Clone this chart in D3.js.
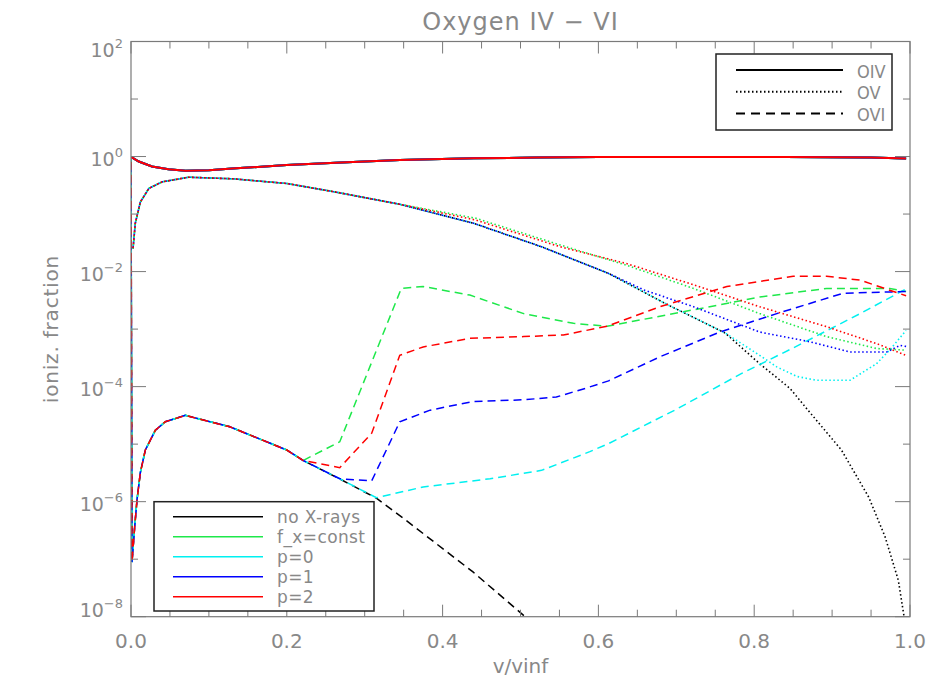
<!DOCTYPE html>
<html>
<head>
<meta charset="utf-8">
<script src="https://cdn.jsdelivr.net/npm/d3@7"></script>
<style>
  body { margin: 0; background: #fff; }
  text { font-family: "DejaVu Sans", sans-serif; fill: #888888; }
</style>
</head>
<body>
<div id="chart"></div>
<script>
// Models and ions
const models = ["no X-rays", "f_x=const", "p=0", "p=1", "p=2"];
const modelColors = ["#000000", "#1ee84a", "#00f0f0", "#0000ff", "#ff0000"];
const ions = ["OIV", "OV", "OVI"];

const xMajorTicks = [0, 0.2, 0.4, 0.6, 0.8, 1.0];
const yLabelExps = [2, 0, -2, -4, -6, -8];

// OIV: all models lie on top of each other
const oivCurve = [[0, 0.99], [0.01, 0.82], [0.027, 0.67], [0.048, 0.6], [0.07, 0.567],
  [0.1, 0.58], [0.13, 0.62], [0.2, 0.71], [0.27, 0.79], [0.345, 0.87], [0.44, 0.93],
  [0.52, 0.96], [0.6, 0.98], [0.7, 0.985], [0.84, 0.985], [0.95, 0.96], [0.995, 0.92]];

// OV: common inner part, then one tail per model
const ovShared = [[0.0026, 0.025], [0.0055, 0.069], [0.012, 0.162], [0.023, 0.28], [0.04, 0.363],
  [0.074, 0.437], [0.131, 0.41], [0.2, 0.34], [0.26, 0.245], [0.345, 0.148]];
const ovNoX = [[0.44, 0.069], [0.527, 0.027], [0.613, 0.0093], [0.69, 0.0026], [0.722, 1.6e-3],
  [0.763, 8.5e-4], [0.807, 2.5e-4], [0.846, 9.3e-5], [0.869, 3.9e-5], [0.912, 7.9e-6],
  [0.947, 1.2e-6], [0.968, 2.45e-7], [0.985, 4.3e-8], [0.995, 6e-9]];
const ovFx = [[0.442, 0.085], [0.551, 0.029], [0.636, 0.0129], [0.722, 0.0051], [0.807, 0.00186],
  [0.893, 7.4e-4], [0.957, 4.6e-4], [0.995, 4.3e-4]];
const ovP0 = [[0.44, 0.069], [0.527, 0.027], [0.613, 0.0093], [0.69, 0.0026], [0.722, 1.6e-3],
  [0.763, 8.5e-4], [0.807, 3.5e-4], [0.829, 2.2e-4], [0.855, 1.5e-4], [0.88, 1.29e-4],
  [0.923, 1.29e-4], [0.957, 2.5e-4], [0.975, 4.5e-4], [0.995, 9.5e-4]];
const ovP1 = [[0.44, 0.069], [0.527, 0.027], [0.613, 0.0093], [0.66, 0.0047], [0.722, 0.00245],
  [0.807, 8.9e-4], [0.872, 6.0e-4], [0.923, 4.0e-4], [0.97, 4.0e-4], [0.987, 5.2e-4], [0.995, 5.0e-4]];
const ovP2 = [[0.442, 0.079], [0.551, 0.027], [0.636, 0.0138], [0.722, 0.0059], [0.807, 0.00245],
  [0.893, 0.0011], [0.957, 5.6e-4], [0.995, 3.5e-4]];

// OVI: common inner part, then one tail per model
const oviShared = [[0, 0.9], [0.0013, 8.9e-8], [0.0047, 3.6e-7], [0.0077, 1.07e-6], [0.012, 3.2e-6],
  [0.0184, 7.9e-6], [0.0312, 1.74e-5], [0.044, 2.45e-5], [0.0697, 3.16e-5], [0.127, 2.0e-5],
  [0.2, 7.9e-6], [0.221, 5.2e-6]];
const oviNoX = [[0.27, 2.4e-6], [0.315, 1.15e-6], [0.35, 5.1e-7], [0.439, 6.0e-8], [0.506, 1.0e-8], [0.53, 5e-9]];
const oviFx = [[0.268, 1.1e-5], [0.347, 5.1e-3], [0.375, 5.5e-3], [0.435, 3.9e-3], [0.504, 1.86e-3],
  [0.568, 1.26e-3], [0.611, 1.12e-3], [0.709, 2.0e-3], [0.807, 3.6e-3], [0.893, 5.1e-3],
  [0.974, 5.1e-3], [0.995, 4.5e-3]];
const oviP0 = [[0.268, 2.5e-6], [0.315, 1.17e-6], [0.375, 1.8e-6], [0.461, 2.5e-6], [0.527, 3.5e-6],
  [0.589, 7.4e-6], [0.613, 1.02e-5], [0.698, 3.9e-5], [0.784, 1.7e-4], [0.85, 4.7e-4],
  [0.936, 1.86e-3], [0.995, 5.0e-3]];
const oviP1 = [[0.268, 2.5e-6], [0.309, 2.3e-6], [0.345, 2.45e-5], [0.384, 3.9e-5], [0.439, 5.5e-5],
  [0.504, 5.9e-5], [0.546, 6.6e-5], [0.583, 9.3e-5], [0.613, 1.26e-4], [0.679, 3.3e-4],
  [0.756, 8.9e-4], [0.829, 1.86e-3], [0.914, 4.2e-3], [0.995, 4.5e-3]];
const oviP2 = [[0.268, 3.9e-6], [0.309, 1.55e-5], [0.345, 3.5e-4], [0.375, 4.9e-4], [0.435, 6.9e-4],
  [0.504, 7.4e-4], [0.555, 7.9e-4], [0.611, 1.12e-3], [0.679, 2.45e-3], [0.765, 5.5e-3],
  [0.85, 8.3e-3], [0.893, 8.3e-3], [0.936, 7.1e-3], [0.995, 3.8e-3]];

const ovTails = [ovNoX, ovFx, ovP0, ovP1, ovP2];
const oviTails = [oviNoX, oviFx, oviP0, oviP1, oviP2];

// Layout
const W = 950, H = 700;
const margin = {top: 41.5, left: 131, right: 40, bottom: 83.3};
const width = W - margin.left - margin.right,
    height = H - margin.top - margin.bottom;
const axisColor = "#7a7a7a";
const dashes = {OIV: null, OV: "1.5 2.5", OVI: "8 5"};

const svg = d3.select("#chart").append("svg")
    .attr("width", W).attr("height", H);

const x = d3.scaleLinear().domain([0, 1]).range([0, width]);
const y = d3.scaleLog().domain([1e-8, 1e2]).range([height, 0]);

const g = svg.append("g").attr("transform", `translate(${margin.left},${margin.top})`);

g.append("clipPath").attr("id", "plotclip")
    .append("rect").attr("width", width).attr("height", height);

// Curves
const line = d3.line().x((d) => x(d[0])).y((d) => y(d[1]));
const curves = g.append("g").attr("clip-path", "url(#plotclip)");

models.forEach((m, i) => {
    const series = [
        {ion: "OIV", pts: oivCurve, w: 2},
        {ion: "OV", pts: ovShared.concat(ovTails[i]), w: 1.6},
        {ion: "OVI", pts: oviShared.concat(oviTails[i]), w: 1.5},
    ];
    series.forEach((s) => {
        curves.append("path")
            .attr("d", line(s.pts))
            .attr("fill", "none")
            .attr("stroke", modelColors[i])
            .attr("stroke-width", s.w)
            .attr("stroke-dasharray", dashes[s.ion])
            .attr("stroke-dashoffset", s.ion === "OVI" ? i * 2.6 : s.ion === "OV" ? i * 0.8 : 0);
    });
});

// Frame and ticks
g.append("rect").attr("width", width).attr("height", height)
    .attr("fill", "none").attr("stroke", axisColor).attr("stroke-width", 1.2);

const xTicks = d3.range(0, 21).map((k) => k * 0.05);
xTicks.forEach((t, k) => {
    const len = k % 4 === 0 ? 12 : 7;
    g.append("line").attr("x1", x(t)).attr("x2", x(t)).attr("y1", height).attr("y2", height - len)
        .attr("stroke", axisColor);
    g.append("line").attr("x1", x(t)).attr("x2", x(t)).attr("y1", 0).attr("y2", len)
        .attr("stroke", axisColor);
});

d3.range(-8, 3).forEach((e) => {
    const len = e % 2 === 0 ? 15 : 7;
    const yy = y(Math.pow(10, e));
    g.append("line").attr("x1", 0).attr("x2", len).attr("y1", yy).attr("y2", yy).attr("stroke", axisColor);
    g.append("line").attr("x1", width).attr("x2", width - len).attr("y1", yy).attr("y2", yy).attr("stroke", axisColor);
});

// Tick labels
xMajorTicks.forEach((t) => {
    g.append("text")
        .attr("x", x(t)).attr("y", height + 31)
        .attr("text-anchor", "middle")
        .style("font-size", "20px")
        .text(d3.format(".1f")(t));
});

yLabelExps.forEach((e) => {
    const shift = e === 2 ? 15 : e === -8 ? 0 : 9;
    const t = g.append("text")
        .attr("x", -8).attr("y", y(Math.pow(10, e)) + shift)
        .attr("text-anchor", "end")
        .style("font-size", "19px");
    t.append("tspan").text("10");
    t.append("tspan").attr("dy", -9).style("font-size", "13px")
        .text(e < 0 ? "\u2212" + (-e) : String(e));
});

// Titles
svg.append("text")
    .attr("x", margin.left + width / 2).attr("y", 30)
    .attr("text-anchor", "middle").style("font-size", "24px")
    .style("letter-spacing", "1px")
    .text("Oxygen IV \u2212 VI");

svg.append("text")
    .attr("x", margin.left + width / 2).attr("y", 673)
    .attr("text-anchor", "middle").style("font-size", "20px")
    .text("v/vinf");

svg.append("text")
    .attr("transform", `translate(58, ${margin.top + height / 2}) rotate(-90)`)
    .attr("text-anchor", "middle").style("font-size", "20px")
    .style("letter-spacing", "0.8px")
    .text("ioniz. fraction");

// Ion legend (top right)
const leg1 = svg.append("g");
leg1.append("rect").attr("x", 716).attr("y", 54).attr("width", 176).attr("height", 76)
    .attr("fill", "#fff").attr("stroke", "#222").attr("stroke-width", 1.5);
ions.forEach((ion, i) => {
    const ly = 70 + i * 21.7;
    leg1.append("line").attr("x1", 736).attr("x2", 843).attr("y1", ly).attr("y2", ly)
        .attr("stroke", "#000").attr("stroke-width", 2)
        .attr("stroke-dasharray", ion === "OVI" ? "9 6" : dashes[ion]);
    leg1.append("text").attr("x", 857).attr("y", ly + 7.5)
        .style("font-family", "'DejaVu Sans Condensed', 'DejaVu Sans', sans-serif")
        .style("font-size", "18px").text(ion);
});

// Model legend (bottom left)
const leg2 = svg.append("g");
leg2.append("rect").attr("x", 154).attr("y", 501.7).attr("width", 220).attr("height", 109.3)
    .attr("fill", "#fff").attr("stroke", "#222").attr("stroke-width", 1.5);
models.forEach((m, i) => {
    const ly = 516.7 + i * 20;
    leg2.append("line").attr("x1", 173).attr("x2", 263).attr("y1", ly).attr("y2", ly)
        .attr("stroke", modelColors[i]).attr("stroke-width", 1.5);
    leg2.append("text").attr("x", 277).attr("y", ly + 6)
        .style("font-size", "17px").style("letter-spacing", "0.4px").text(m);
});
</script>
</body>
</html>
